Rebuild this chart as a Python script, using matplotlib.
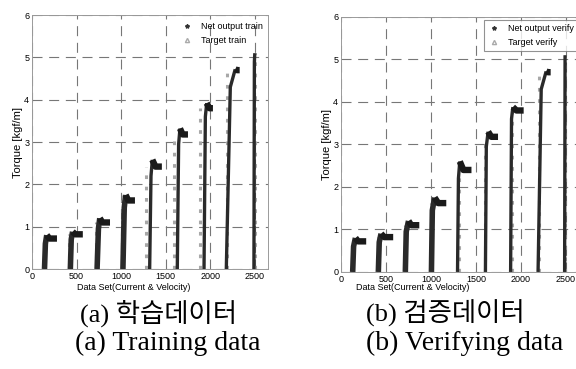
import matplotlib
matplotlib.use("Agg")
import matplotlib.pyplot as plt
from matplotlib.lines import Line2D

# Données (train / verify)
ticks_x = [0, 500, 1000, 1500, 2000, 2500]
ticks_y = [0, 1, 2, 3, 4, 5, 6]

train_base_x = [140, 430, 730, 1020, 1320, 1630, 1930, 2180, 2490]
train_knee_x = [150, 440, 745, 1035, 1335, 1645, 1945, 2225, 2495]
train_knee_y = [0.60, 0.70, 0.95, 1.45, 2.20, 2.95, 3.60, 4.30, 4.90]
train_peak_x = [165, 455, 760, 1050, 1350, 1660, 1960, 2280, 2500]
train_peak = [0.80, 0.88, 1.20, 1.75, 2.58, 3.32, 3.92, 4.72, 5.10]
train_flat_x = [195, 485, 790, 1080, 1385, 1690, 1990, 2300, 2500]
train_level = [0.72, 0.82, 1.10, 1.62, 2.42, 3.18, 3.80, 4.70, 5.10]
train_end_x = [280, 570, 875, 1155, 1457, 1750, 2030, 2330, 2500]
train_target_x = [130, 420, 720, 1010, 1275, 1590, 1885, 2185, 2500]

verify_base_x = [130, 415, 715, 1005, 1295, 1605, 1885, 2190, 2485]
verify_knee_x = [140, 425, 725, 1015, 1305, 1615, 1895, 2225, 2490]
verify_knee_y = [0.60, 0.70, 0.95, 1.45, 2.20, 2.95, 3.60, 4.30, 4.90]
verify_peak_x = [160, 445, 750, 1040, 1320, 1635, 1910, 2280, 2490]
verify_peak = [0.80, 0.90, 1.20, 1.75, 2.60, 3.30, 3.88, 4.72, 5.10]
verify_flat_x = [190, 480, 780, 1080, 1360, 1670, 1950, 2300, 2490]
verify_level = [0.72, 0.82, 1.10, 1.62, 2.40, 3.18, 3.80, 4.70, 5.10]
verify_end_x = [280, 580, 870, 1170, 1450, 1745, 2030, 2330, 2490]
verify_target_x = [125, 410, 710, 1000, 1310, 1600, 1895, 2195, 2485]

plt.rcParams["font.family"] = ["Liberation Sans Narrow", "Liberation Sans"]

SERIF = ["Liberation Serif", "Noto Sans CJK KR"]


def draw_panel(ax, base_x, knee_x, knee_y, peak_x, peak, flat_x, level, end_x,
               target_x, names, framed):
    # Colonnes des cibles (gris clair, pointillés)
    for tx, lv in zip(target_x, level):
        ax.plot([tx, tx], [0, lv], color="#a8a8a8", lw=2.2,
                ls=(0, (1.2, 2.5)), zorder=2)
    # Sorties du réseau (bandes sombres)
    for i in range(len(base_x)):
        xs = [base_x[i], knee_x[i], peak_x[i], flat_x[i], end_x[i]]
        ys = [0, knee_y[i], peak[i], level[i], level[i]]
        lw = 4.0 if i < 4 else 2.4
        ax.plot(xs[:3], ys[:3], color="#2a2a2a", lw=lw, zorder=3,
                solid_capstyle="butt")
        ax.plot(xs[2:], ys[2:], color="#1a1a1a", lw=4.6, zorder=3,
                solid_capstyle="butt")

    ax.set_xlim(0, 2650)
    ax.set_ylim(0, 6)
    ax.set_xticks(ticks_x)
    ax.set_yticks(ticks_y)
    ax.tick_params(labelsize=6.5, length=0, pad=2)
    ax.grid(True, color="#777777", lw=0.8, ls=(0, (9, 6)))
    ax.set_axisbelow(True)
    for s in ax.spines.values():
        s.set_color("#9a9a9a")
        s.set_linewidth(0.7)
    ax.set_ylabel("Torque [kgf/m]", fontsize=8, labelpad=1)
    ax.set_xlabel("Data Set(Current & Velocity)", fontsize=6.5, labelpad=1)

    handles = [
        Line2D([], [], ls="none", marker="*", ms=3, color="#333333"),
        Line2D([], [], ls="none", marker="^", ms=3, mfc="none",
               mec="#aaaaaa"),
    ]
    leg = ax.legend(handles, names, loc="upper right", fontsize=6.5,
                    frameon=framed, handlelength=1.5, borderpad=0.4,
                    labelspacing=0.6, fancybox=False, borderaxespad=0.2,
                    bbox_to_anchor=(1.0, 0.995))
    if framed:
        leg.get_frame().set_edgecolor("#777777")
        leg.get_frame().set_linewidth(0.8)


fig = plt.figure(figsize=(5.76, 3.69), dpi=100)
ax1 = fig.add_axes([0.0556, 0.271, 0.41, 0.688])
ax2 = fig.add_axes([0.592, 0.263, 0.414, 0.691])

draw_panel(ax1, train_base_x, train_knee_x, train_knee_y, train_peak_x,
           train_peak, train_flat_x, train_level, train_end_x,
           train_target_x, ["Net output train", "Target train"], False)
draw_panel(ax2, verify_base_x, verify_knee_x, verify_knee_y, verify_peak_x,
           verify_peak, verify_flat_x, verify_level, verify_end_x,
           verify_target_x, ["Net output verify", "Target verify"], True)

ax1.xaxis.set_label_coords(0.43, -0.055)
ax2.xaxis.set_label_coords(0.30, -0.045)

# Légendes des sous-figures
fig.text(0.139, 0.152, "(a) 학습데이터", family=SERIF, fontsize=19,
         va="center", ha="left")
fig.text(0.130, 0.070, "(a) Training data", family=SERIF, fontsize=20,
         va="center", ha="left")
fig.text(0.636, 0.152, "(b) 검증데이터", family=SERIF, fontsize=19,
         va="center", ha="left")
fig.text(0.636, 0.070, "(b) Verifying data", family=SERIF, fontsize=20,
         va="center", ha="left")

fig.savefig("out.png", dpi=100)
